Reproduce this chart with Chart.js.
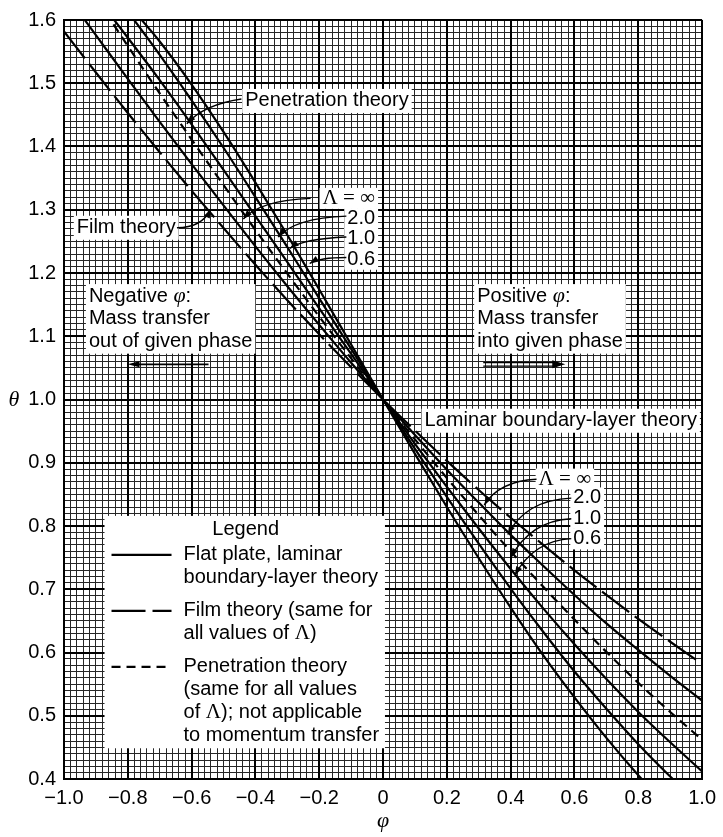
<!DOCTYPE html>
<html>
<head>
<meta charset="utf-8">
<script src="https://cdn.jsdelivr.net/npm/chart.js@4/dist/chart.umd.min.js"></script>
<style>
  html, body { margin: 0; padding: 0; background: #fff; }
</style>
</head>
<body>
<canvas id="chart" width="723" height="837"></canvas>
<script>
// Mass-transfer rate factor theta versus rate parameter phi
const phi = [-1.0, -0.9, -0.8, -0.7, -0.6, -0.5, -0.4, -0.3, -0.2, -0.1, 0.0,
              0.1,  0.2,  0.3,  0.4,  0.5,  0.6,  0.7,  0.8,  0.9, 1.0];

// Film theory (long dashes)
const thetaFilm = [1.582, 1.517, 1.453, 1.391, 1.330, 1.271, 1.213, 1.157, 1.103, 1.051, 1.000,
                   0.951, 0.903, 0.857, 0.813, 0.771, 0.730, 0.691, 0.653, 0.617, 0.582];
// Penetration theory (short dashes)
const thetaPenetration = [1.712, 1.635, 1.559, 1.484, 1.411, 1.339, 1.268, 1.199, 1.131, 1.065, 1.000,
                          0.937, 0.876, 0.817, 0.760, 0.705, 0.652, 0.601, 0.552, 0.506, 0.462];
// Flat plate, laminar boundary layer, Lambda = infinity, 2.0, 1.0, 0.6
const thetaLamInf = [1.645, 1.576, 1.507, 1.439, 1.372, 1.307, 1.242, 1.179, 1.118, 1.058, 1.000,
                     0.944, 0.889, 0.837, 0.786, 0.738, 0.691, 0.646, 0.604, 0.563, 0.524];
const thetaLam2 = [1.699, 1.637, 1.572, 1.505, 1.435, 1.363, 1.290, 1.217, 1.144, 1.072, 1.000,
                   0.930, 0.862, 0.796, 0.732, 0.671, 0.613, 0.558, 0.506, 0.458, 0.412];
const thetaLam1 = [1.732, 1.676, 1.613, 1.545, 1.473, 1.398, 1.320, 1.241, 1.160, 1.080, 1.000,
                   0.922, 0.846, 0.772, 0.701, 0.634, 0.570, 0.511, 0.455, 0.404, 0.356];
const thetaLam06 = [1.760, 1.690, 1.626, 1.566, 1.498, 1.423, 1.343, 1.260, 1.174, 1.087, 1.000,
                    0.914, 0.830, 0.749, 0.671, 0.597, 0.529, 0.465, 0.406, 0.352, 0.303];

const xTickLabels = ['\u22121.0', '\u22120.8', '\u22120.6', '\u22120.4', '\u22120.2', '0',
                     '0.2', '0.4', '0.6', '0.8', '1.0'];
const yTickLabels = ['0.4', '0.5', '0.6', '0.7', '0.8', '0.9', '1.0', '1.1', '1.2', '1.3', '1.4', '1.5', '1.6'];

const SANS = '"Liberation Sans", Arial, Helvetica, sans-serif';
const SERIF = '"Liberation Serif", "Times New Roman", serif';

const FILM_DASH = [34, 7];
const PEN_DASH = [9, 6];

function pts(values) {
  return phi.map((x, i) => ({ x: x, y: values[i] }));
}
function lineSet(label, values, dash) {
  return {
    label: label,
    data: pts(values),
    borderColor: '#000',
    borderWidth: 2.2,
    borderDash: dash,
    pointRadius: 0,
    fill: false,
    cubicInterpolationMode: 'monotone'
  };
}

const datasets = [
  lineSet('Film theory', thetaFilm, FILM_DASH),
  lineSet('Penetration theory', thetaPenetration, PEN_DASH),
  lineSet('Laminar boundary layer, \u039b = \u221e', thetaLamInf, []),
  lineSet('Laminar boundary layer, \u039b = 2.0', thetaLam2, []),
  lineSet('Laminar boundary layer, \u039b = 1.0', thetaLam1, []),
  lineSet('Laminar boundary layer, \u039b = 0.6', thetaLam06, [])
];

// ---- text helpers -------------------------------------------------------
function fontOf(kind) {
  if (kind === 'it') return 'italic 22px ' + SERIF;
  if (kind === 'serif') return '21px ' + SERIF;
  return '20px ' + SANS;
}
function segsOf(line) {
  return line.map(s => (typeof s === 'string') ? { t: s, k: 'sans' } : { t: s[0], k: s[1] });
}
function lineWidthOf(ctx, line) {
  let w = 0;
  for (const s of segsOf(line)) { ctx.font = fontOf(s.k); w += ctx.measureText(s.t).width; }
  return w;
}
function drawRich(ctx, line, x, y) {
  let cx = x;
  for (const s of segsOf(line)) {
    ctx.font = fontOf(s.k);
    ctx.fillText(s.t, cx, y);
    cx += ctx.measureText(s.t).width;
  }
}

// Labels placed in data coordinates (phi, theta); step is the line spacing
const notes = [
  { phi: -0.432, theta: 1.472, align: 'left', step: 23, box: 'block',
    lines: [['Penetration theory']] },
  { phi: -0.960, theta: 1.2715, align: 'left', step: 23, box: 'block',
    lines: [['Film theory']] },
  { phi: -0.025, theta: 1.318, align: 'right', step: 20.3, box: 'lines',
    lines: [[['\u039b = \u221e', 'serif']], ['2.0'], ['1.0'], ['0.6']] },
  { phi: -0.922, theta: 1.1635, align: 'left', step: 22.8, box: 'block',
    lines: [['Negative ', ['\u03c6', 'it'], ':'], ['Mass transfer'], ['out of given phase']] },
  { phi: 0.295, theta: 1.1635, align: 'left', step: 22.8, box: 'block',
    lines: [['Positive ', ['\u03c6', 'it'], ':'], ['Mass transfer'], ['into given phase']] },
  { phi: 0.130, theta: 0.9664, align: 'left', step: 23, box: 'block',
    lines: [['Laminar boundary-layer theory']] },
  { phi: 0.4876, theta: 0.8741, align: 'left', step: 20.5, box: 'lines',
    lines: [[['\u039b = \u221e', 'serif']]] },
  { phi: 0.5963, theta: 0.8444, align: 'left', step: 20.5, box: 'lines',
    lines: [['2.0'], ['1.0'], ['0.6']] }
];

// Curved pointers: start, control point, tip (data coordinates)
const pointers = [
  [[-0.444, 1.475], [-0.562, 1.466], [-0.615, 1.436]],
  [[-0.646, 1.2715], [-0.568, 1.2715], [-0.540, 1.301]],
  [[-0.227, 1.318], [-0.385, 1.315], [-0.438, 1.2855]],
  [[-0.115, 1.290], [-0.276, 1.287], [-0.329, 1.257]],
  [[-0.115, 1.257], [-0.252, 1.254], [-0.292, 1.239]],
  [[-0.115, 1.2245], [-0.199, 1.2245], [-0.230, 1.215]],
  [[0.481, 0.874], [0.363, 0.871], [0.317, 0.833]],
  [[0.590, 0.844], [0.447, 0.841], [0.391, 0.7865]],
  [[0.590, 0.8115], [0.463, 0.8084], [0.401, 0.7505]],
  [[0.590, 0.780], [0.472, 0.777], [0.413, 0.722]]
];

// Legend box corners in data coordinates
const legendBox = { phi0: -0.873, theta0: 0.816, phi1: 0.006, theta1: 0.4486 };
const legendRows = [
  { dash: [], lines: [['Flat plate, laminar'], ['boundary-layer theory']] },
  { dash: FILM_DASH, lines: [['Film theory (same for'], ['all values of ', ['\u039b', 'serif'], ')']] },
  { dash: PEN_DASH, lines: [['Penetration theory'], ['(same for all values'],
                            ['of ', ['\u039b', 'serif'], '); not applicable'], ['to momentum transfer']] }
];

function noteRects(ctx, n, P) {
  const a = P(n.phi, n.theta);
  return n.lines.map((ln, i) => {
    const w = lineWidthOf(ctx, ln);
    const x = n.align === 'right' ? a.x - w : a.x;
    return { x: x, y: a.y + i * n.step, w: w, line: ln };
  });
}

function arrowHead(ctx, tip, from, L, W) {
  const ang = Math.atan2(tip.y - from.y, tip.x - from.x);
  const c = Math.cos(ang), s = Math.sin(ang);
  ctx.beginPath();
  ctx.moveTo(tip.x, tip.y);
  ctx.lineTo(tip.x - L * c + W * s, tip.y - L * s - W * c);
  ctx.lineTo(tip.x - L * c - W * s, tip.y - L * s + W * c);
  ctx.closePath();
  ctx.fill();
}

const annotations = {
  id: 'annotations',
  beforeDatasetsDraw(chart) {
    const ctx = chart.ctx;
    const xs = chart.scales.x, ys = chart.scales.y;
    const P = (f, t) => ({ x: xs.getPixelForValue(f), y: ys.getPixelForValue(t) });
    ctx.save();
    ctx.fillStyle = '#fff';
    // white backing for labels
    for (const n of notes) {
      const r = noteRects(ctx, n, P);
      if (n.box === 'block') {
        const x0 = Math.min(...r.map(q => q.x)) - 3;
        const x1 = Math.max(...r.map(q => q.x + q.w)) + 3;
        const y0 = r[0].y - 12;
        const y1 = r[r.length - 1].y + 12;
        ctx.fillRect(x0, y0, x1 - x0, y1 - y0);
      } else {
        for (const q of r) ctx.fillRect(q.x - 3, q.y - 10.5, q.w + 6, 21);
      }
    }
    const a = P(legendBox.phi0, legendBox.theta0), b = P(legendBox.phi1, legendBox.theta1);
    ctx.fillRect(a.x, a.y, b.x - a.x, b.y - a.y);
    ctx.restore();
  },
  afterDatasetsDraw(chart) {
    const ctx = chart.ctx;
    const xs = chart.scales.x, ys = chart.scales.y;
    const P = (f, t) => ({ x: xs.getPixelForValue(f), y: ys.getPixelForValue(t) });
    ctx.save();
    ctx.fillStyle = '#000';
    ctx.strokeStyle = '#000';
    ctx.textBaseline = 'middle';
    ctx.textAlign = 'left';
    for (const n of notes) {
      for (const q of noteRects(ctx, n, P)) drawRich(ctx, q.line, q.x, q.y);
    }
    // curved pointers
    ctx.lineWidth = 1.4;
    for (const [s, c, t] of pointers) {
      const p0 = P(s[0], s[1]), pc = P(c[0], c[1]), p1 = P(t[0], t[1]);
      ctx.beginPath();
      ctx.moveTo(p0.x, p0.y);
      ctx.quadraticCurveTo(pc.x, pc.y, p1.x, p1.y);
      ctx.stroke();
      arrowHead(ctx, p1, pc, 9, 3.2);
    }
    // direction arrows under the two phi notes
    const n0 = P(-0.547, 1.0556), n1 = P(-0.801, 1.0556);
    ctx.lineWidth = 1.6;
    ctx.beginPath(); ctx.moveTo(n0.x, n0.y); ctx.lineTo(n1.x + 6, n1.y); ctx.stroke();
    arrowHead(ctx, n1, n0, 12, 3);
    const p0 = P(0.314, 1.0556), p1 = P(0.571, 1.0556);
    ctx.lineWidth = 1.2;
    ctx.beginPath();
    ctx.moveTo(p0.x, p0.y - 1.8); ctx.lineTo(p1.x - 8, p1.y - 1.8);
    ctx.moveTo(p0.x, p0.y + 1.8); ctx.lineTo(p1.x - 8, p1.y + 1.8);
    ctx.stroke();
    arrowHead(ctx, p1, p0, 13, 4);

    // legend
    const lb = P(legendBox.phi0, legendBox.theta0);
    const le = P(legendBox.phi1, legendBox.theta1);
    ctx.font = fontOf('sans');
    ctx.textAlign = 'center';
    ctx.fillText('Legend', (lb.x + le.x) / 2 + 1, lb.y + 14);
    ctx.textAlign = 'left';
    let y = lb.y + 39;
    for (const row of legendRows) {
      ctx.lineWidth = 2.2;
      ctx.setLineDash(row.dash);
      ctx.beginPath();
      ctx.moveTo(lb.x + 7, y);
      ctx.lineTo(lb.x + 67, y);
      ctx.stroke();
      ctx.setLineDash([]);
      row.lines.forEach((ln, i) => drawRich(ctx, ln, lb.x + 79, y + i * 23));
      y += row.lines.length * 23 + 10;
    }

    // vertical axis symbol, kept upright
    ctx.font = fontOf('it');
    ctx.textAlign = 'center';
    ctx.fillText('\u03b8', 14, ys.getPixelForValue(1.0) + 1);
    ctx.restore();
  }
};

const tickFont = { family: SANS, size: 20 };

new Chart(document.getElementById('chart'), {
  type: 'line',
  data: { datasets: datasets },
  options: {
    responsive: false,
    devicePixelRatio: 1,
    animation: false,
    events: [],
    layout: { padding: { left: 0, top: 12, right: 15, bottom: 0 } },
    plugins: { legend: { display: false }, tooltip: { enabled: false } },
    scales: {
      xFine: {
        type: 'linear', position: 'bottom', min: -1, max: 1,
        ticks: { display: false, stepSize: 0.02, maxTicksLimit: 1000 },
        grid: { color: '#262626', lineWidth: 1, drawTicks: false, z: -3 },
        border: { display: false },
        afterFit: s => { s.height = 0; }
      },
      yFine: {
        type: 'linear', position: 'left', min: 0.4, max: 1.6,
        ticks: { display: false, stepSize: 0.01, maxTicksLimit: 1000 },
        grid: { color: '#262626', lineWidth: 1, drawTicks: false, z: -3 },
        border: { display: false },
        afterFit: s => { s.width = 0; }
      },
      x: {
        type: 'linear', position: 'bottom', min: -1, max: 1,
        ticks: { stepSize: 0.2, autoSkip: false, maxRotation: 0, padding: 7, color: '#000',
                 font: tickFont, callback: (v, i) => xTickLabels[i] },
        grid: { color: '#000', lineWidth: 2, drawTicks: false, z: -2 },
        border: { color: '#000', width: 2 },
        title: { display: true, text: '\u03c6', color: '#000',
                 font: { family: SERIF, style: 'italic', size: 22 },
                 padding: { top: 0, bottom: 3 } },
        afterFit: s => { s.height = 58; }
      },
      y: {
        type: 'linear', position: 'left', min: 0.4, max: 1.6,
        ticks: { stepSize: 0.1, autoSkip: false, padding: 8, color: '#000',
                 font: tickFont, callback: (v, i) => yTickLabels[i] },
        grid: { color: '#000', lineWidth: 2, drawTicks: false, z: -2 },
        border: { color: '#000', width: 2 },
        afterFit: s => { s.width = 64; }
      }
    }
  },
  plugins: [annotations]
});
</script>
</body>
</html>
